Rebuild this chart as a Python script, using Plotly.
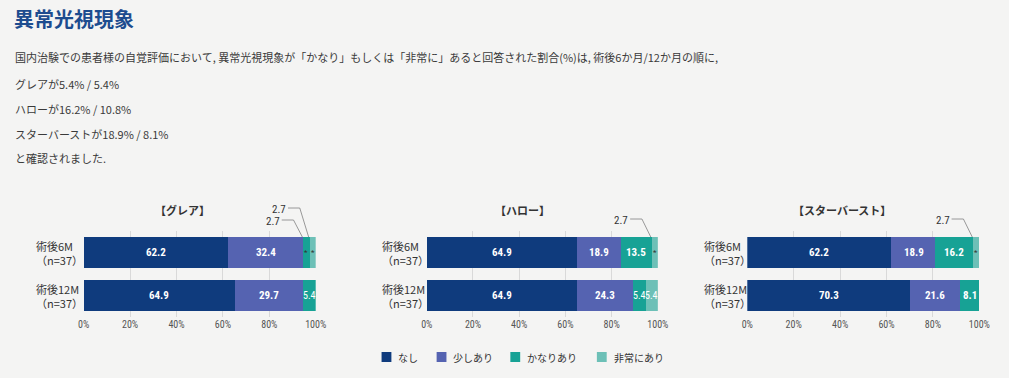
import plotly.graph_objects as go

# ---------------- data ----------------
series_names = ["なし", "少しあり", "かなりあり", "非常にあり"]
series_colors = ["#0f3b7d", "#5563b1", "#17a295", "#6dc0b7"]

chart_titles = ["【グレア】", "【ハロー】", "【スターバースト】"]
row_labels = ["術後6M<br>（n=37）", "術後12M<br>（n=37）"]

glare_6m = [62.2, 32.4, 2.7, 2.7]
glare_12m = [64.9, 29.7, 5.4, 0.0]
halo_6m = [64.9, 18.9, 13.5, 2.7]
halo_12m = [64.9, 24.3, 5.4, 5.4]
star_6m = [62.2, 18.9, 16.2, 2.7]
star_12m = [70.3, 21.6, 8.1, 0.0]

tick_vals = [0, 20, 40, 60, 80, 100]
tick_text = ["0%", "20%", "40%", "60%", "80%", "100%"]

title_text = "異常光視現象"
body_lines = [
    "国内治験での患者様の自覚評価において, 異常光視現象が「かなり」もしくは「非常に」あると回答された割合(%)は, 術後6か月/12か月の順に,",
    "グレアが5.4% / 5.4%",
    "ハローが16.2% / 10.8%",
    "スターバーストが18.9% / 8.1%",
    "と確認されました.",
]

# callouts: (chart index, series index, label y in px)
callouts = [(0, 3, 209), (0, 2, 221), (1, 3, 220), (2, 3, 220)]

# ---------------- layout constants ----------------
W, H = 1009, 378
px = lambda x: x / W
py = lambda y: 1 - y / H

domains_px = [(79, 315), (428, 663), (754, 990)]
title_x_px = [180, 525, 850]
label_x_px = [28, 380, 708]
legend_x_px = [382, 438, 513, 601]
legend_y_px = 357
y_dom = [py(317), py(231)]
BAR_W = 0.72

NUM_FONT = "Liberation Sans Narrow, Roboto Condensed, Arial Narrow, Roboto, sans-serif"
JP_FONT = "Noto Sans CJK JP, Noto Sans, sans-serif"

charts = [(glare_6m, glare_12m), (halo_6m, halo_12m), (star_6m, star_12m)]

fig = go.Figure()
annotations = []
shapes = []

for ci, (v6, v12) in enumerate(charts):
    xa = "x" if ci == 0 else f"x{ci+1}"
    ya = "y" if ci == 0 else f"y{ci+1}"
    for si, name in enumerate(series_names):
        fig.add_trace(go.Bar(
            x=[v6[si], v12[si]], y=[1, 0], orientation="h",
            name=name, marker=dict(color=series_colors[si], line=dict(width=0)),
            width=BAR_W, xaxis=xa, yaxis=ya,
            showlegend=False, legendgroup=name, hoverinfo="skip",
        ))
    # value labels
    for yv, vals in ((1, v6), (0, v12)):
        cum = 0
        for si, v in enumerate(vals):
            cum += v
            if v <= 0:
                continue
            if v < 3:
                txt, col, size = "*", "#333333", 8
            elif v < 6:
                txt, col, size = f"{v:.1f}", "white", 10
            else:
                txt, col, size = f"<b>{v:.1f}</b>", "white", 11
            annotations.append(dict(
                x=cum - v / 2, y=yv, xref=xa, yref=ya, text=txt, showarrow=False,
                font=dict(family=NUM_FONT, size=size, color=col),
                xanchor="center", yanchor="middle", borderpad=0,
            ))
    # chart title
    annotations.append(dict(
        x=px(title_x_px[ci]), y=py(210), xref="paper", yref="paper",
        text=f"<b>{chart_titles[ci]}</b>", showarrow=False,
        font=dict(family=JP_FONT, size=11, color="#333333"),
        xanchor="center", yanchor="middle",
    ))
    # row labels
    for yv, lab in zip([1, 0], row_labels):
        annotations.append(dict(
            x=px(label_x_px[ci]), y=yv, xref="paper", yref=ya,
            text=lab, showarrow=False, align="left",
            font=dict(family=JP_FONT, size=11, color="#333333"),
            xanchor="left", yanchor="middle",
        ))

# callouts
for ci, si, ly in callouts:
    vals = charts[ci][0]
    center = sum(vals[:si]) + vals[si] / 2
    d0, d1 = domains_px[ci]
    cx = d0 + center / 100 * (d1 - d0)
    bar_top = 237
    lab_x = cx - 34
    elbow = cx - 13
    end = cx - 4
    annotations.append(dict(
        x=px(lab_x), y=py(ly), xref="paper", yref="paper", text=f"{vals[si]:.1f}",
        showarrow=False, font=dict(family=NUM_FONT, size=11, color="#333333"),
        xanchor="center", yanchor="middle",
    ))
    shapes.append(dict(
        type="path", xref="paper", yref="paper",
        path=f"M {px(lab_x + 9)} {py(ly - 1)} L {px(elbow)} {py(ly - 1)} L {px(end)} {py(bar_top)}",
        line=dict(color="#808080", width=0.8),
    ))

# legend (drawn manually to match spacing)
for name, col, lx in zip(series_names, series_colors, legend_x_px):
    shapes.append(dict(
        type="rect", xref="paper", yref="paper",
        x0=px(lx), x1=px(lx + 10), y0=py(legend_y_px + 5), y1=py(legend_y_px - 5),
        fillcolor=col, line=dict(width=0),
    ))
    annotations.append(dict(
        x=px(lx + 15), y=py(legend_y_px), xref="paper", yref="paper", text=name,
        showarrow=False, font=dict(family=JP_FONT, size=10, color="#333333"),
        xanchor="left", yanchor="middle",
    ))

# header text
annotations.append(dict(
    x=px(6), y=py(19), xref="paper", yref="paper", text=f"<b>{title_text}</b>",
    showarrow=False, font=dict(family=JP_FONT, size=20, color="#1d4c8f"),
    xanchor="left", yanchor="middle",
))
for i, (line, ly) in enumerate(zip(body_lines, [57, 84, 109, 134, 158])):
    annotations.append(dict(
        x=px(7), y=py(ly), xref="paper", yref="paper", text=line,
        showarrow=False, font=dict(family=JP_FONT, size=11, color="#3a3a3a"),
        xanchor="left", yanchor="middle",
    ))

layout = dict(
    width=W, height=H, margin=dict(l=0, r=0, t=0, b=0),
    paper_bgcolor="#f4f4f3", plot_bgcolor="rgba(0,0,0,0)",
    barmode="stack", bargap=0, showlegend=False,
    annotations=annotations, shapes=shapes,
)
for ci in range(3):
    sfx = "" if ci == 0 else str(ci + 1)
    d0, d1 = domains_px[ci]
    layout[f"xaxis{sfx}"] = dict(
        domain=[px(d0), px(d1)], range=[0, 100], tickvals=tick_vals, ticktext=tick_text,
        showgrid=True, gridcolor="#d9d9d9", gridwidth=1, zeroline=False, showline=False,
        tickfont=dict(family=NUM_FONT, size=10, color="#555555"), ticks="", fixedrange=True,
        anchor=f"y{sfx}",
    )
    layout[f"yaxis{sfx}"] = dict(
        domain=y_dom, range=[-0.5, 1.5], showticklabels=False, showgrid=False,
        zeroline=False, showline=False, anchor=f"x{sfx}", fixedrange=True,
    )

fig.update_layout(**layout)
fig.write_html(
    "out.html",
    config={"displayModeBar": False},
    post_script="document.body.style.margin='0';document.body.style.overflow='hidden';",
)
